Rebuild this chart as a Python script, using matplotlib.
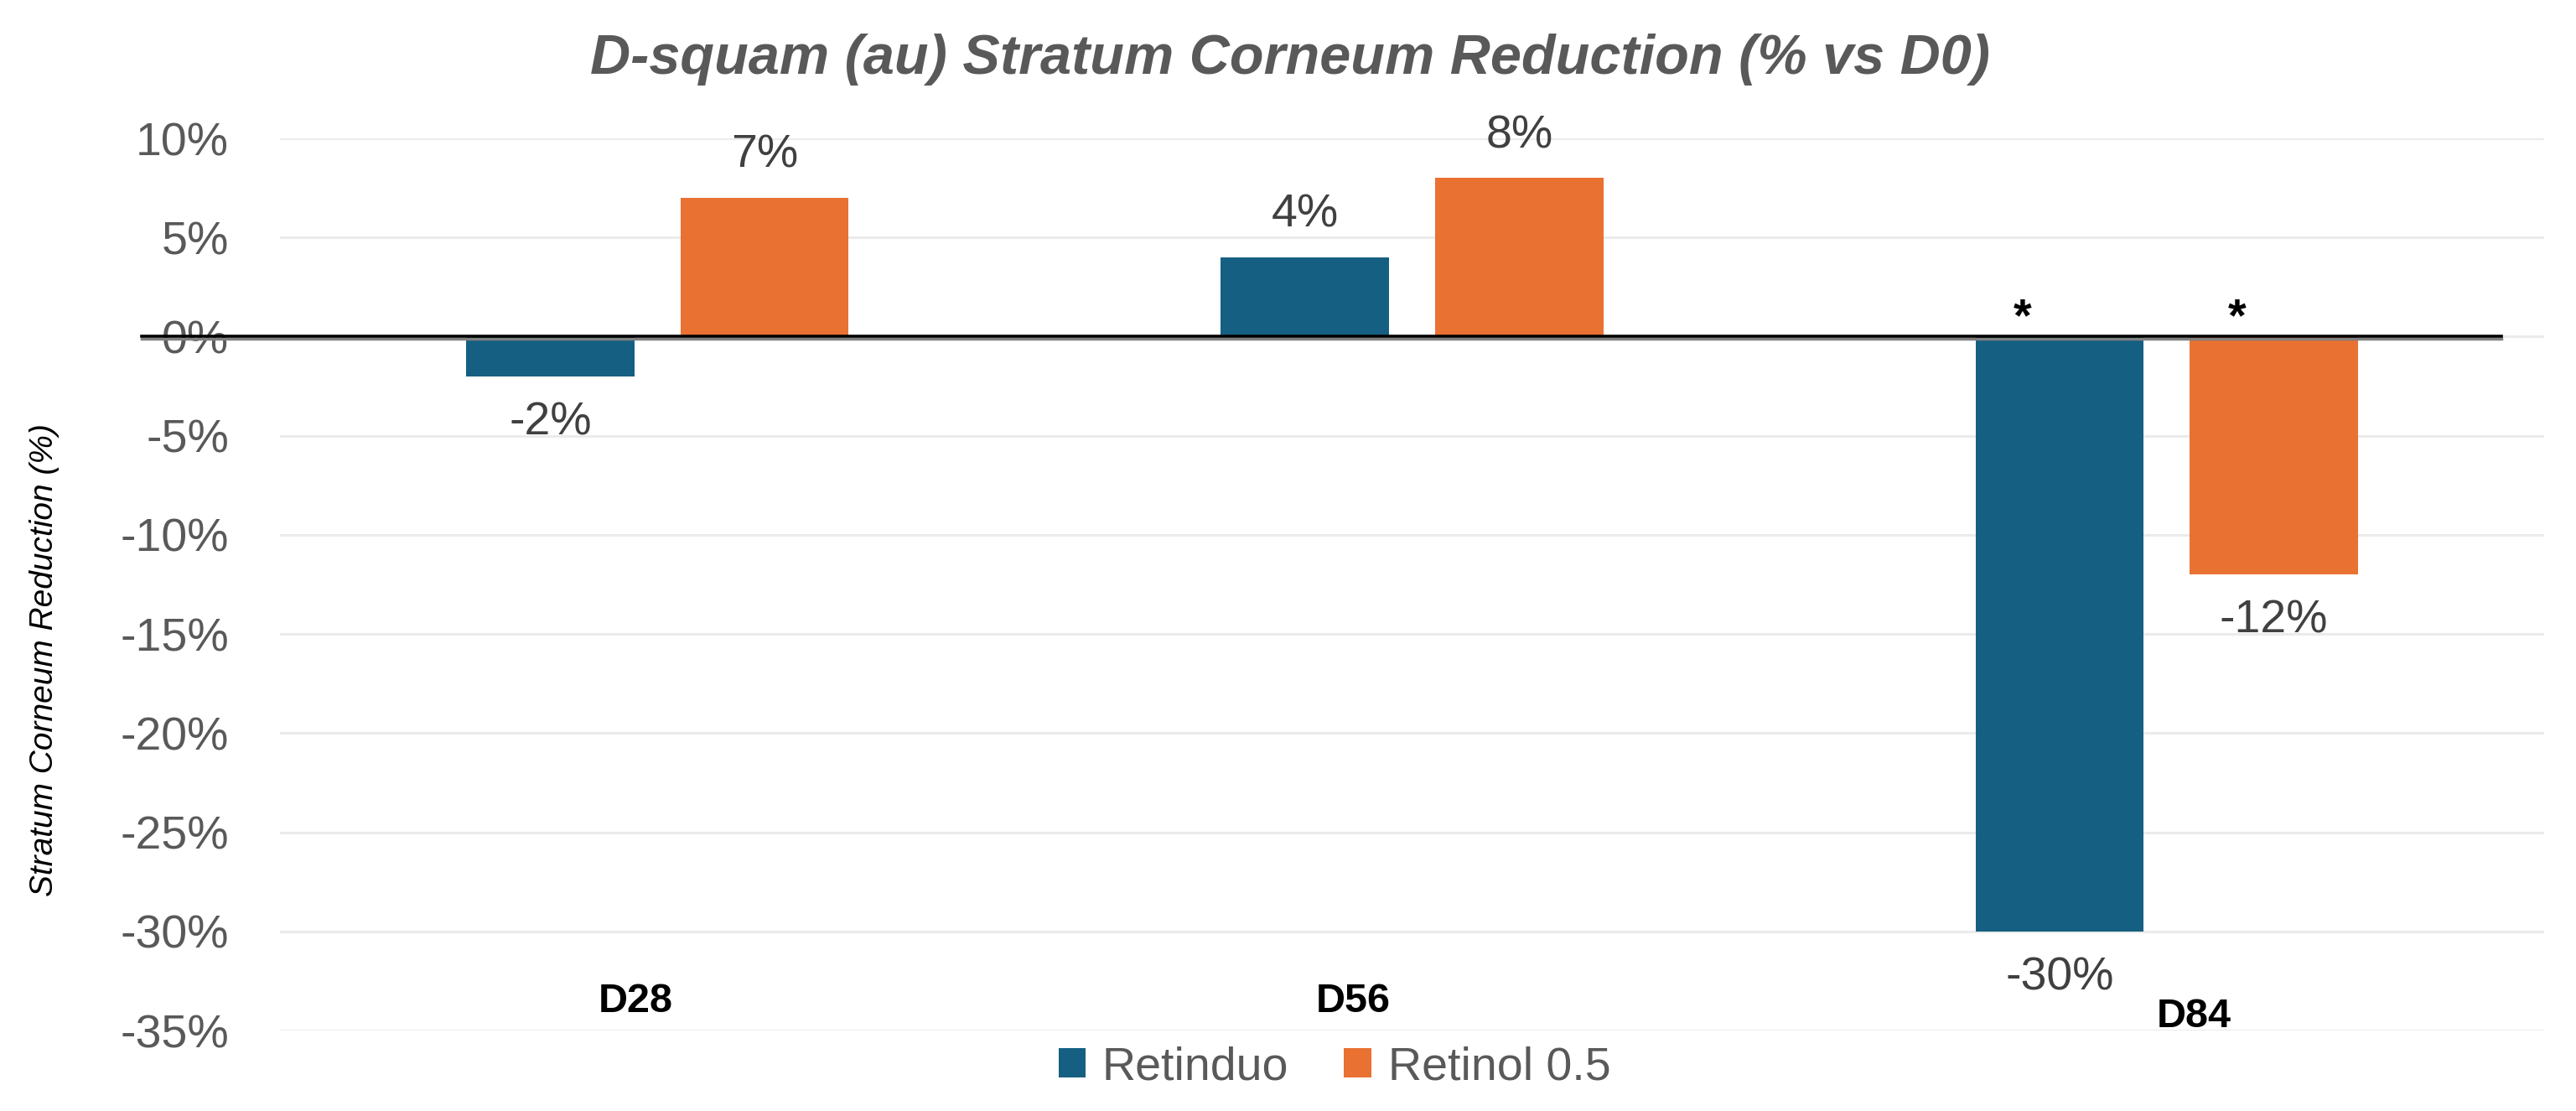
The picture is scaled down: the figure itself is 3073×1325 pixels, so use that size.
import numpy as np
import matplotlib.pyplot as plt
from matplotlib.transforms import ScaledTranslation
from matplotlib.ticker import FuncFormatter, MultipleLocator

# data
days = ["D28", "D56", "D84"]
series = ["Retinduo", "Retinol 0.5"]
retinduo = [-0.02, 0.04, -0.30]
retinol = [0.07, 0.08, -0.12]
significant = [False, False, True]   # "*" markers at D84

colors = ["#156082", "#E97132"]
plt.rcParams["font.family"] = ["Liberation Sans", "DejaVu Sans"]

W, H = 3073, 1325
fig = plt.figure(figsize=(W / 100, H / 100), dpi=100)
ax = fig.add_axes([334 / W, 1 - 1229 / H, (3035 - 334) / W, (1229 - 165) / H])

x = np.arange(len(days))
bw, off = 0.223, 0.142
b1 = ax.bar(x - off, retinduo, bw, color=colors[0], label=series[0], zorder=2)
b2 = ax.bar(x + off, retinol, bw, color=colors[1], label=series[1], zorder=2)

ax.set_xlim(-0.5, len(days) - 0.5)
ax.set_ylim(-0.35, 0.10)
ax.yaxis.set_major_locator(MultipleLocator(0.05))
ax.yaxis.set_major_formatter(FuncFormatter(lambda v, p: f"{int(round(v * 100))}%"))
ax.tick_params(axis="y", length=0, pad=44, labelsize=40, labelcolor="#595959")
ax.set_xticks([])
for s in ax.spines.values():
    s.set_visible(False)
ax.yaxis.grid(True, color="#EBEBEB", lw=2.2, zorder=0)
ax.set_axisbelow(True)

# zero line (drawn past the plot area like the original)
shift = ScaledTranslation(0, -3 / 100, fig.dpi_scale_trans)
ax.plot([-0.683, 2.443], [0, 0], color="#808080", lw=2.5, clip_on=False, zorder=3,
        transform=ax.transData + shift)
ax.plot([-0.683, 2.443], [0, 0], color="black", lw=2.6, clip_on=False, zorder=4)

# value labels
for bars, vals in [(b1, retinduo), (b2, retinol)]:
    for rect, v in zip(bars, vals):
        cx = rect.get_x() + rect.get_width() / 2
        dy = 36 if v >= 0 else -40
        ax.annotate(f"{int(round(v * 100))}%", (cx, v), xytext=(0, dy), textcoords="offset points",
                    ha="center", va="center", fontsize=40, color="#404040", zorder=5)

# significance stars
for i, sig in enumerate(significant):
    if sig:
        for xo in (x[i] - off, x[i] + off):
            ax.text(xo - 0.049, 0.003, "*", ha="center", va="baseline", fontsize=40,
                    fontweight="bold", color="black", zorder=5)

# category labels, placed by hand in the original
cat_dx = [-0.029, -0.078, 0.036]
cat_y = [-0.3407, -0.3407, -0.3483]
for i, d in enumerate(days):
    ax.text(x[i] + cat_dx[i], cat_y[i], d, ha="center", va="baseline", fontsize=35,
            fontweight="bold", color="black", zorder=5)

fig.text(1539 / W, 1 - 88 / H, "D-squam (au) Stratum Corneum Reduction (% vs D0)",
         ha="center", va="baseline", fontsize=48, fontweight="bold", fontstyle="italic", color="#595959")
fig.text(53 / W, 1 - 787 / H, "Stratum Corneum Reduction (%)", rotation=90,
         ha="center", va="center", fontsize=28, fontstyle="italic", color="black")

fig.legend(handles=[b1, b2], loc="center", bbox_to_anchor=(1592 / W, 1 - 1273 / H), ncol=2,
           frameon=False, fontsize=40, labelcolor="#595959", handlelength=0.58, handleheight=0.6,
           handletextpad=0.36, columnspacing=1.19, borderpad=0, borderaxespad=0)

fig.savefig("out.png", dpi=100)
